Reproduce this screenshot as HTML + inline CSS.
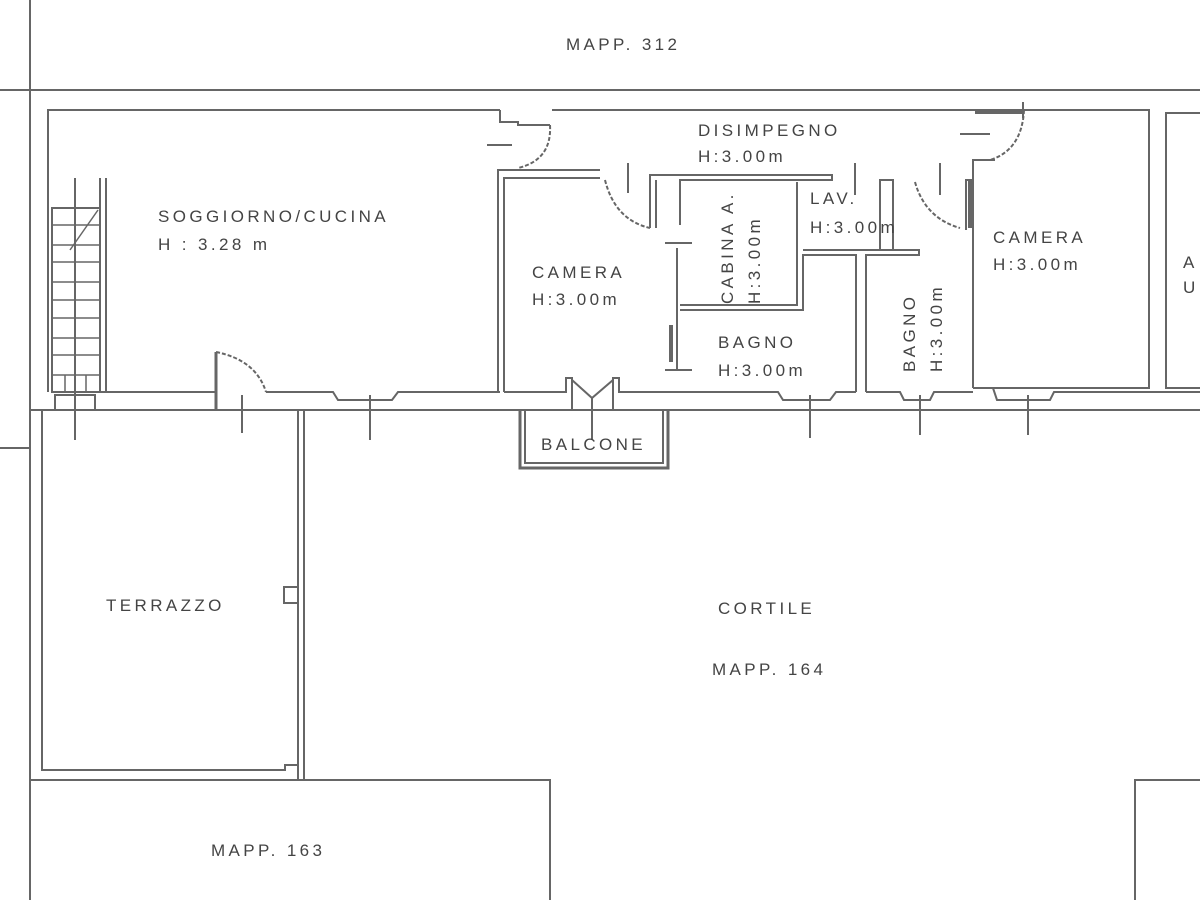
<!DOCTYPE html>
<html><head><meta charset="utf-8"><style>
html,body{margin:0;padding:0;background:#fff}
svg{display:block}
text{font-family:"Liberation Sans",sans-serif;font-size:17px;fill:#444;letter-spacing:3.4px}
</style></head><body>
<svg width="1200" height="900" viewBox="0 0 1200 900" xmlns="http://www.w3.org/2000/svg">
<g fill="none" stroke="#666" stroke-width="2">
<line x1="0" y1="90" x2="1200" y2="90"/>
<line x1="30" y1="0" x2="30" y2="900"/>
<line x1="0" y1="448" x2="30" y2="448"/>
<polyline points="500,110 48,110 48,392"/>
<polyline points="552,110 1149,110 1149,388 973,388"/>
<line x1="48" y1="410" x2="1200" y2="410"/>
<line x1="30" y1="410" x2="48" y2="410"/>
<polyline points="1200,113 1166,113 1166,388 1200,388"/>
<polyline points="106,392 216,392"/>
<polyline points="266,392 333,392 338,400 392,400 398,392 500,392"/>
<polyline points="504,392 560,392"/>
<polyline points="625,392 778,392 783,400 830,400 836,392 856,392"/>
<polyline points="866,392 900,392 904,400 930,400 934,392 973,392"/>
<polyline points="973,388 993,388 997,400 1050,400 1054,392 1149,392"/>
<line x1="1149" y1="392" x2="1200" y2="392"/>
<line x1="370" y1="395" x2="370" y2="440"/>
<line x1="242" y1="395" x2="242" y2="433"/>
<line x1="810" y1="395" x2="810" y2="438"/>
<line x1="920" y1="395" x2="920" y2="435"/>
<line x1="1028" y1="395" x2="1028" y2="435"/>
<line x1="75" y1="178" x2="75" y2="440"/>
<polyline points="100,178 100,392 106,392 106,178"/>
<rect x="52" y="208" width="48" height="184"/>
<g stroke-width="1.5">
<line x1="52" y1="262" x2="100" y2="262"/><line x1="52" y1="282" x2="100" y2="282"/>
<line x1="52" y1="300" x2="100" y2="300"/><line x1="52" y1="318" x2="100" y2="318"/>
<line x1="52" y1="338" x2="100" y2="338"/><line x1="52" y1="355" x2="100" y2="355"/>
<line x1="52" y1="375" x2="100" y2="375"/>
<line x1="52" y1="225" x2="100" y2="225"/><line x1="52" y1="245" x2="100" y2="245"/>
<line x1="65" y1="375" x2="65" y2="392"/><line x1="86" y1="375" x2="86" y2="392"/>
<path d="M70,250 L98,210"/>
</g>
<rect x="55" y="395" width="40" height="15"/>
<line x1="216" y1="352" x2="216" y2="410" stroke-width="3"/>
<path d="M216,352 Q256,360 266,392" stroke-dasharray="4 2"/>
<polyline points="500,110 500,122 518,122 518,125 550,125"/>
<path d="M550,125 Q552,160 518,168" stroke-dasharray="4 2"/>
<line x1="487" y1="145" x2="512" y2="145"/>
<polyline points="498,392 498,170 600,170"/>
<polyline points="504,392 504,178 600,178"/>
<path d="M605,180 Q615,220 650,228" stroke-dasharray="4 2"/>
<line x1="628" y1="163" x2="628" y2="193"/>
<polyline points="650,228 650,175 832,175 832,180 680,180 680,225"/>
<polyline points="656,228 656,180"/>
<polyline points="680,305 797,305 797,182"/>
<polyline points="680,310 803,310 803,255 856,255 856,392"/>
<polyline points="803,250 919,250 919,255 866,255 866,392"/>
<line x1="677" y1="248" x2="677" y2="370"/>
<line x1="671" y1="325" x2="671" y2="362" stroke-width="4"/>
<line x1="665" y1="370" x2="692" y2="370"/>
<line x1="665" y1="243" x2="692" y2="243"/>
<polyline points="880,250 880,180 893,180 893,250"/>
<line x1="855" y1="163" x2="855" y2="195"/>
<line x1="940" y1="163" x2="940" y2="195"/>
<path d="M915,182 Q925,218 960,228" stroke-dasharray="4 2"/>
<polyline points="966,230 966,180 973,180 973,160 995,160"/>
<line x1="970" y1="180" x2="970" y2="228" stroke-width="4"/>
<line x1="973" y1="160" x2="973" y2="388"/>
<path d="M1024,110 Q1022,150 990,160" stroke-dasharray="4 2"/>
<line x1="975" y1="112" x2="1022" y2="112" stroke-width="4"/>
<line x1="1023" y1="102" x2="1023" y2="118"/>
<line x1="960" y1="134" x2="990" y2="134"/>
<polyline points="520,410 520,468 668,468 668,410" stroke-width="3"/>
<polyline points="525,410 525,463 663,463 663,410"/>
<polyline points="560,392 566,392 566,378 572,378 572,410"/>
<polyline points="625,392 619,392 619,378 613,378 613,410"/>
<path d="M572,380 L592,398 L613,380"/>
<line x1="592" y1="398" x2="592" y2="440"/>
<polyline points="42,410 42,770 285,770 285,765 298,765"/>
<line x1="298" y1="410" x2="298" y2="780"/>
<line x1="304" y1="410" x2="304" y2="780"/>
<rect x="284" y="587" width="14" height="16"/>
<polyline points="30,780 550,780 550,900"/>
<polyline points="1135,900 1135,780 1200,780"/>
</g>
<g>
<text x="566" y="50">MAPP. 312</text>
<text x="158" y="222">SOGGIORNO/CUCINA</text>
<text x="158" y="250">H : 3.28 m</text>
<text x="698" y="136">DISIMPEGNO</text>
<text x="698" y="162">H:3.00m</text>
<text x="532" y="278">CAMERA</text>
<text x="532" y="305">H:3.00m</text>
<text x="810" y="204">LAV.</text>
<text x="810" y="233">H:3.00m</text>
<text x="993" y="243">CAMERA</text>
<text x="993" y="270">H:3.00m</text>
<text x="718" y="348">BAGNO</text>
<text x="718" y="376">H:3.00m</text>
<text transform="translate(733,304) rotate(-90)">CABINA A.</text>
<text transform="translate(760,304) rotate(-90)">H:3.00m</text>
<text transform="translate(915,372) rotate(-90)">BAGNO</text>
<text transform="translate(942,372) rotate(-90)">H:3.00m</text>
<text x="541" y="450">BALCONE</text>
<text x="106" y="611">TERRAZZO</text>
<text x="718" y="614">CORTILE</text>
<text x="712" y="675">MAPP. 164</text>
<text x="211" y="856">MAPP. 163</text>
<text x="1183" y="268">A</text>
<text x="1183" y="293">U</text>
</g>
</svg>
</body></html>
